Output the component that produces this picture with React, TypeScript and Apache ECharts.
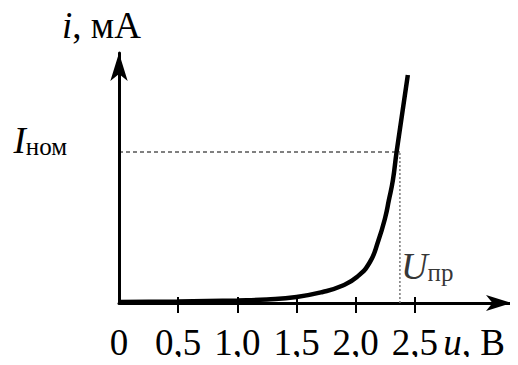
import React, { useEffect, useRef } from "react";
import * as echarts from "echarts";

// Forward I–V characteristic of an LED (reading of the picture)
const voltage = [0, 0.5, 1.0, 1.25, 1.5, 1.72, 1.88, 2.01, 2.12, 2.19, 2.25, 2.28, 2.314, 2.345, 2.44];
const current = [1, 1.5, 2.5, 3.5, 6, 11, 17, 26, 41, 62, 86, 103, 123, 151, 228];

const tickValues = [0.5, 1.0, 1.5, 2.0, 2.5];
const labelValues = [0, 0.5, 1.0, 1.5, 2.0, 2.5, 3.0];
const X_MAX = 3.32;
const Y_MAX = 250;

const I_NOM = 151; // nominal current level
const U_PR = 2.373; // forward voltage at nominal current
const U_LABEL_LEVEL = 38;

const FONT = "'Liberation Serif', 'Times New Roman', serif";

const richBase = {
  it: { fontFamily: FONT, fontStyle: "italic", fontSize: 37, lineHeight: 40, color: "#000", verticalAlign: "bottom" },
  n: { fontFamily: FONT, fontSize: 37, lineHeight: 40, color: "#000", verticalAlign: "bottom" },
  sub: { fontFamily: FONT, fontSize: 25, lineHeight: 24, color: "#000", verticalAlign: "bottom" },
};

export default function App() {
  const ref = useRef<HTMLDivElement>(null);
  useEffect(() => {
    if (!ref.current) return;
    const chart = echarts.init(ref.current, null, { renderer: "svg" });
    const curve = voltage.map((u, k) => [u, current[k]]);
    chart.setOption({
      animation: false,
      backgroundColor: "#fff",
      textStyle: { fontFamily: FONT },
      grid: { left: 119, right: 6, top: 53, bottom: 62 },
      xAxis: [
        {
          type: "value",
          min: 0,
          max: X_MAX,
          splitLine: { show: false },
          axisLine: {
            show: true,
            onZero: false,
            symbol: ["none", "arrow"],
            symbolSize: [12, 26],
            lineStyle: { color: "#000", width: 3 },
          },
          axisTick: {
            show: true,
            customValues: tickValues,
            length: 10,
            lineStyle: { color: "#000", width: 2 },
          },
          axisLabel: {
            show: true,
            customValues: labelValues,
            margin: 18,
            fontFamily: FONT,
            fontSize: 37,
            color: "#000",
            formatter: (v: number) =>
              v === 3 ? "{it|u}{n|, В}" : v === 0 ? "{n|0}" : "{n|" + v.toFixed(1).replace(".", ",") + "}",
            rich: richBase,
          },
        },
        {
          type: "value",
          min: 0,
          max: X_MAX,
          position: "bottom",
          splitLine: { show: false },
          axisLine: { show: false },
          axisTick: {
            show: true,
            inside: true,
            customValues: tickValues,
            length: 6,
            lineStyle: { color: "#000", width: 2 },
          },
          axisLabel: { show: false },
        },
      ],
      yAxis: {
        type: "value",
        min: 0,
        max: Y_MAX,
        splitLine: { show: false },
        axisLine: {
          show: true,
          onZero: false,
          symbol: ["none", "arrow"],
          symbolSize: [13, 28],
          lineStyle: { color: "#000", width: 3 },
        },
        axisTick: { show: false },
        axisLabel: {
          show: true,
          customValues: [I_NOM],
          margin: 52,
          padding: [0, 0, 26, 0],
          formatter: () => "{it|I}{sub|ном}",
          rich: richBase,
        },
        name: "{it|i}{n|, мА}",
        nameLocation: "end",
        nameGap: 9,
        nameTextStyle: { rich: richBase, padding: [0, 35, 0, 0] },
      },
      series: [
        {
          type: "line",
          data: curve,
          xAxisIndex: 0,
          smooth: 0.5,
          symbol: "none",
          lineStyle: { color: "#000", width: 4.5 },
          z: 5,
        },
        {
          type: "line",
          data: [
            [0, I_NOM],
            [U_PR, I_NOM],
          ],
          symbol: "none",
          lineStyle: { color: "#000", width: 1, type: [4, 3] },
          z: 3,
        },
        {
          type: "line",
          data: [
            [U_PR, 0],
            [U_PR, I_NOM],
          ],
          symbol: "none",
          lineStyle: { color: "#777", width: 1.5, type: [2, 2] },
          z: 3,
        },
        {
          type: "scatter",
          data: [[U_PR, U_LABEL_LEVEL]],
          symbolSize: 0,
          label: {
            show: true,
            position: "right",
            distance: 1,
            formatter: () => "{it|U}{sub|пр}",
            rich: richBase,
          },
        },
      ],
    });
    return () => chart.dispose();
  }, []);
  return <div ref={ref} style={{ width: 518, height: 365, margin: -8 }} />;
}
